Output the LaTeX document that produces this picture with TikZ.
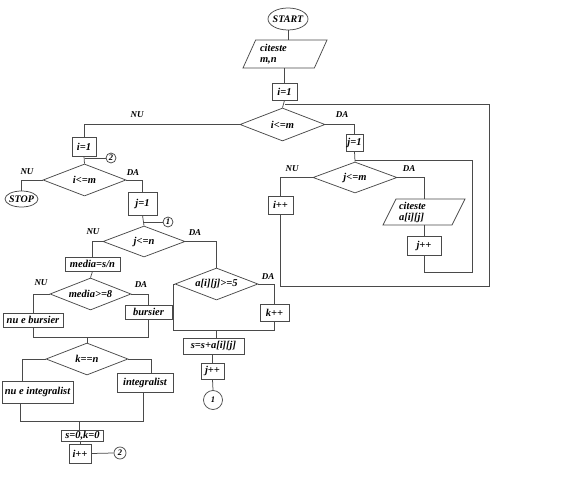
\documentclass[tikz,border=0pt]{standalone}
\usepackage{fontspec}
\setmainfont{Liberation Serif}
\usetikzlibrary{shapes.geometric,calc}
\definecolor{lc}{HTML}{4A4A4A}
\begin{document}
\begin{tikzpicture}[x=1pt,y=-1pt,
  txt/.style={font=\fontsize{10.5}{11}\selectfont\bfseries\itshape},
  box/.style={draw=lc, line width=0.75pt, rectangle, inner sep=0pt, txt},
  dia/.style={draw=lc, line width=0.75pt, diamond, inner sep=0pt, txt},
  term/.style={draw=lc, line width=0.75pt, ellipse, inner sep=0pt, font=\fontsize{10}{11}\selectfont\bfseries\itshape},
  io/.style={draw=lc, line width=0.75pt, trapezium, trapezium left angle=60, trapezium right angle=120, trapezium stretches body, inner sep=1pt, text width=50pt, align=left, txt},
  conn/.style={draw=lc, line width=0.75pt, circle, inner sep=0pt, font=\fontsize{8.5}{9}\selectfont\bfseries\itshape},
  lab/.style={font=\fontsize{9}{10}\selectfont\bfseries\itshape, inner sep=0pt},
  wire/.style={draw=lc, line width=0.75pt}]
\useasboundingbox (0,0) rectangle (575,486);

% top part
\node[term, minimum width=40pt, minimum height=22pt] (start) at (288,19) {\makebox[0pt]{START}};
\node[io, minimum width=84pt, minimum height=28pt] (p1) at (285,54) {citeste\\m,n};
\node[box, minimum width=25pt, minimum height=17pt] (i1a) at (284.5,91.5) {i=1};
\node[dia, minimum width=85pt, minimum height=33pt] (d1) at (282.5,124.5) {\makebox[0pt]{i<=m}};

% left column
\node[box, minimum width=24pt, minimum height=19pt] (i1b) at (84,146.5) {i=1};
\node[conn, minimum size=10pt] (c2a) at (111,158) {2};
\node[dia, minimum width=83pt, minimum height=32pt] (d2) at (84.5,180) {\makebox[0pt]{i<=m}};
\node[term, minimum width=33pt, minimum height=16pt] (stop) at (21.5,199) {\makebox[0pt]{STOP}};
\node[box, minimum width=29pt, minimum height=23pt] (j1a) at (142.5,203.5) {j=1};
\node[conn, minimum size=10pt] (c1a) at (168,222) {1};
\node[dia, minimum width=82pt, minimum height=31pt] (d3) at (144,241.5) {\makebox[0pt]{j<=n}};
\node[box, minimum width=55pt, minimum height=14pt] (media) at (92.5,264) {media=s/n};
\node[dia, minimum width=81pt, minimum height=32pt] (d5) at (90.5,294) {\makebox[0pt]{media>=8}};
\node[box, minimum width=60pt, minimum height=14pt] (nub) at (33,320) {nu e bursier};
\node[box, minimum width=47pt, minimum height=14pt] (bur) at (148.5,312) {bursier};
\node[dia, minimum width=82pt, minimum height=32pt] (d6) at (87,359) {\makebox[0pt]{k==n}};
\node[box, minimum width=71pt, minimum height=22pt] (nui) at (37.5,392) {nu e integralist};
\node[box, minimum width=56pt, minimum height=19pt] (integ) at (145,382.5) {integralist};
\node[box, minimum width=42pt, minimum height=11pt] (s0k0) at (82.5,435.5) {s=0,k=0};
\node[box, minimum width=22pt, minimum height=19pt] (ipp1) at (80,453.5) {i++};
\node[conn, minimum size=12pt] (c2b) at (120,453) {2};

% middle column
\node[dia, minimum width=83pt, minimum height=32pt] (d4) at (216.5,284) {\makebox[0pt]{a[i][j]>=5}};
\node[box, minimum width=29pt, minimum height=17pt] (kpp) at (274.5,312.5) {k++};
\node[box, minimum width=61pt, minimum height=16pt] (ssum) at (213.5,346) {s=s+a[i][j]};
\node[box, minimum width=23pt, minimum height=16pt] (jpp1) at (212.5,371) {j++};
\node[conn, minimum size=19pt] (c1b) at (213,400) {1};

% right column
\node[box, minimum width=17pt, minimum height=17pt] (j1b) at (354.5,142.5) {j=1};
\node[dia, minimum width=84pt, minimum height=31pt] (d7) at (355,177.5) {\makebox[0pt]{j<=m}};
\node[box, minimum width=25pt, minimum height=18pt] (ipp2) at (280.5,205) {i++};
\node[io, minimum width=82pt, minimum height=26pt] (p2) at (424,212) {citeste\\a[i][j]};
\node[box, minimum width=34pt, minimum height=19pt] (jpp2) at (424,245.5) {j++};

% labels
\node[lab] (lnu1) at (137,115) {NU};
\node[lab] (lda1) at (342,115) {DA};
\node[lab] (lnu2) at (27,172) {NU};
\node[lab] (lda2) at (133,173) {DA};
\node[lab] (lnu3) at (93,232) {NU};
\node[lab] (lda3) at (195,233) {DA};
\node[lab] (lda4) at (268,277) {DA};
\node[lab] (lnu5) at (41,283) {NU};
\node[lab] (lda5) at (141,285) {DA};
\node[lab] (lnu7) at (292,169) {NU};
\node[lab] (lda7) at (409,169) {DA};

% helper coordinates
\coordinate (r1) at (489,286);
\coordinate (t1) at (284.5,104);
\coordinate (r2) at (472,272);
\coordinate (t2) at (355,160);
\coordinate (j4) at (173,330);
\coordinate (j5) at (87,337);
\coordinate (j6) at (79,421);

% connectors
\draw[wire] (start.south) -- (start.south |- p1.north);
\draw[wire] (i1a.north |- p1.south) -- (i1a.north);
\draw[wire] (i1a.south) -- (d1.north);
\draw[wire] (ipp2.south) |- (r1) |- (t1);
\draw[wire] (d1.west) -| (i1b.north);
\draw[wire] (d1.east) -| (j1b.north);
\draw[wire] (i1b.south) -- (d2.north);
\draw[wire] (c2a.west) -- (d2.north |- c2a.west);
\draw[wire] (d2.west) -| (stop.north);
\draw[wire] (d2.east) -| (j1a.north);
\draw[wire] (j1a.south) -- (d3.north);
\draw[wire] (c1a.west) -- (d3.north |- c1a.west);
\draw[wire] (d3.west) -| (media.north);
\draw[wire] (d3.east) -| (d4.north);
\draw[wire] (d4.east) -| (kpp.north);
\draw[wire] (d4.west) -| (j4) -| (kpp.south);
\draw[wire] (d4.south |- j4) -- (d4.south |- ssum.north);
\draw[wire] (jpp1.north |- ssum.south) -- (jpp1.north);
\draw[wire] (jpp1.south) -- (c1b.north);
\draw[wire] (media.south) -- (d5.north);
\draw[wire] (d5.west) -| (nub.north);
\draw[wire] (d5.east) -| (bur.north);
\draw[wire] (nub.south) |- (bur.south |- j5) -- (bur.south);
\draw[wire] (j5) -- (d6.north);
\draw[wire] (d6.west) -| ([xshift=21pt]nui.north west);
\draw[wire] (d6.east) -| ([xshift=35pt]integ.north west);
\draw[wire] ([xshift=19pt]nui.south west) |- ([xshift=27pt]integ.south west |- j6) -- ([xshift=27pt]integ.south west);
\draw[wire] (j6) -- (j6 |- s0k0.north);
\draw[wire] (ipp1.north |- s0k0.south) -- (ipp1.north);
\draw[wire] (ipp1.east) -- (c2b.west);
\draw[wire] (j1b.south) -- (d7.north);
\draw[wire] (jpp2.south) |- (r2) |- (t2);
\draw[wire] (d7.west) -| (ipp2.north);
\draw[wire] (d7.east) -| (p2.center |- p2.north);
\draw[wire] (p2.center |- p2.south) -- (jpp2.north);
\end{tikzpicture}
\end{document}
